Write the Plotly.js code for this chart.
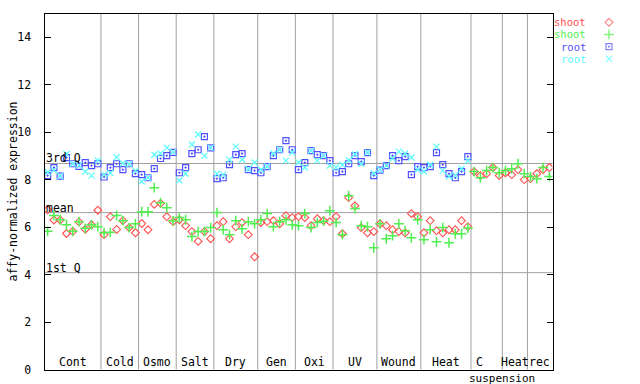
<!DOCTYPE html>
<html>
<head>
<meta charset="utf-8">
<script src="https://cdn.plot.ly/plotly-3.0.1.min.js"></script>
<style>html,body{margin:0;padding:0;background:#fff;}#chart{width:640px;height:384px;}</style>
</head>
<body>
<div id="chart"></div>
<script>
// ---- data ----
const groupNames = ['Cont','Cold','Osmo','Salt','Dry','Gen','Oxi','UV','Wound','Heat','C','Heat','rec'];
const groupSizes = [9,6,6,6,7,6,6,7,7,8,5,4,4];
const subLabel = 'suspension';          // spans the groups "C" and "Heat" (2nd)
const subLabelGroups = [10, 11];

const shootRep1 = [6.73,6.30,6.30,5.73,5.82,6.22,5.91,6.10,6.71,5.68,6.44,5.90,6.27,5.98,5.76,6.15,5.89,6.96,7.00,6.44,6.23,6.31,6.06,5.81,5.40,5.81,5.51,
  6.06,6.23,5.51,6.02,6.19,5.68,4.75,6.19,6.23,6.27,6.14,6.48,6.40,6.44,6.40,6.06,6.35,6.27,6.23,6.44,5.72,7.24,6.90,5.98,5.76,5.81,
  6.14,6.06,5.89,5.81,5.76,6.57,6.44,5.76,6.27,5.85,5.76,5.89,5.89,6.27,6.02,8.34,8.17,8.25,8.51,8.17,8.29,8.21,8.42,8.00,8.04,8.25,8.42,8.51];
const shootRep2 = [5.82,6.49,6.31,6.10,5.82,6.23,5.95,6.10,6.02,5.76,5.78,6.49,6.27,5.98,6.14,6.65,6.65,7.66,7.03,6.82,6.26,6.40,6.31,5.60,5.81,5.81,5.98,
  6.61,5.89,5.68,6.27,5.93,6.23,6.14,6.31,6.57,6.02,6.23,6.31,6.10,6.06,6.57,5.98,6.19,6.25,6.69,6.19,5.68,7.32,6.78,6.06,6.02,5.13,
  6.14,5.51,5.64,6.14,5.85,5.55,6.31,5.47,5.89,5.38,5.98,5.34,5.72,5.72,5.96,8.34,8.08,8.38,8.51,8.29,8.38,8.46,8.67,8.25,8.13,8.04,8.51,8.13];
const rootRep1 = [8.17,8.51,8.15,8.93,8.67,8.56,8.72,8.59,8.67,8.11,8.51,8.67,8.42,8.67,8.25,8.21,8.08,8.46,8.89,9.01,9.15,8.29,8.51,9.10,9.26,9.81,9.34,
  8.04,8.08,8.63,9.05,9.10,8.42,8.38,8.29,8.55,9.01,9.26,9.64,9.26,8.42,8.72,9.22,9.05,9.01,8.80,8.29,8.34,8.67,9.01,8.76,9.14,8.17,
  8.40,8.59,9.01,8.80,8.97,8.21,8.55,8.51,8.55,9.14,8.63,8.25,8.08,8.34,8.97,null,null,null,null,null,null,null,null,null,null,null,null,null];
const rootRep2 = [8.31,8.40,8.15,9.08,8.67,8.60,8.34,8.17,8.81,8.21,8.28,8.94,8.69,8.65,8.38,7.92,8.08,9.05,9.10,9.35,9.17,7.96,8.25,9.48,9.90,9.01,9.35,
  8.25,8.21,8.84,9.39,8.84,8.45,8.72,8.42,8.55,9.10,9.26,8.80,9.14,8.72,8.51,9.22,8.80,9.01,8.59,8.52,8.63,8.82,9.07,8.67,9.14,8.27,
  8.42,8.59,8.89,9.18,9.10,8.93,8.42,8.34,8.63,9.39,8.38,8.13,8.19,8.46,8.80,null,null,null,null,null,null,null,null,null,null,null,null,null];

const refLines = [4.08, 6.61, 8.68];
const refLabels = ['1st Q', 'mean', '3rd Q'];
const legendLabels = ['shoot','shoot','root','root'];
const yTicks = [0,2,4,6,8,10,12,14];

// ---- styles ----
const FONT = 'DejaVu Sans Mono, monospace';
const colors = ['#ff5050','#50f050','#5050ff','#60ffff'];
const symbols = ['diamond-open','cross-thin-open','square-open-dot','x-thin-open'];
const sizes = [6,7,6,6];
const widths = [1.1,1.5,1.2,1.3];
const series = [shootRep1, shootRep2, rootRep1, rootRep2];

const nSamples = groupSizes.reduce((a,b)=>a+b,0);
const xIdx = Array.from({length:nSamples},(_,i)=>i);

// group boundaries / centres
const bounds = []; const centres = [];
let acc = 0;
groupSizes.forEach((n,g)=>{ centres.push(acc + (n-1)/2); acc += n; if (g < groupSizes.length-1) bounds.push(acc-0.5); });

const traces = series.map((s,k)=>({
  type:'scatter', mode:'markers', x:xIdx, y:s, name:legendLabels[k], showlegend:false,
  marker:{symbol:symbols[k], size:sizes[k], color:colors[k], line:{color:colors[k], width:widths[k]}},
  xaxis:'x', yaxis:'y', hoverinfo:'skip'
}));
// legend keys (drawn on a helper axis in the right margin)
traces.push({
  type:'scatter', mode:'markers', x:legendLabels.map(()=>0), y:legendLabels.map((_,k)=>k),
  xaxis:'x2', yaxis:'y2', showlegend:false, hoverinfo:'skip',
  marker:{symbol:symbols, size:sizes, color:colors, line:{color:colors, width:widths}}
});

const W=640,H=384;
const L=44.5,R=552.5,T=13.5,B=369.5;
const shapes = [];
bounds.forEach(b=>shapes.push({type:'line', xref:'x', yref:'paper', x0:b, x1:b, y0:(H-B)/H, y1:(H-T)/H, line:{color:'#a0a0a0', width:1}, layer:'below'}));
refLines.forEach(v=>shapes.push({type:'line', xref:'paper', yref:'y', x0:L/W, x1:R/W, y0:v, y1:v, line:{color:'#a0a0a0', width:1}, layer:'below'}));

const annotations = [];
groupNames.forEach((g,i)=>annotations.push({xref:'x', yref:'y', x:centres[i], y:0, yanchor:'bottom', yshift:0,
  xshift:(g==='C'?-7:0), borderpad:0, text:g, showarrow:false, font:{family:FONT, size:11.5, color:'#000'}}));
annotations.push({xref:'x', yref:'y', x:bounds[subLabelGroups[0]], y:0, yanchor:'top', yshift:-1, borderpad:0,
  text:subLabel, showarrow:false, font:{family:FONT, size:11, color:'#000'}});
refLabels.forEach((t,i)=>annotations.push({xref:'paper', yref:'y', x:(L+0.5)/W, xanchor:'left', y:refLines[i], yanchor:'bottom', yshift:-3, borderpad:0,
  text:t, showarrow:false, font:{family:FONT, size:11.5, color:'#000'}}));
legendLabels.forEach((t,k)=>annotations.push({xref:'paper', yref:'y2', x:587/W, xanchor:'right', y:k, yanchor:'middle', borderpad:0,
  text:t, showarrow:false, font:{family:FONT, size:10.5, color:colors[k]}}));
// y-axis title, placed as a rotated annotation in the left margin
annotations.push({xref:'paper', yref:'paper', x:12/W, y:(H-(T+B)/2)/H, xanchor:'center', yanchor:'middle', textangle:-90,
  text:'affy-normalized expression', showarrow:false, borderpad:0, font:{family:FONT, size:11.5, color:'#000'}});

const layout = {
  width:W, height:H, margin:{l:0,r:0,t:0,b:0},
  paper_bgcolor:'#fff', plot_bgcolor:'#fff', showlegend:false,
  font:{family:FONT, size:11.5, color:'#000'},
  xaxis:{domain:[L/W, R/W], range:[-0.5, nSamples-0.5], showticklabels:false, ticks:'', showgrid:false, zeroline:false,
         showline:true, linecolor:'#000', linewidth:1, mirror:true, fixedrange:true},
  yaxis:{domain:[(H-B)/H, (H-T)/H], range:[0,15], tickvals:yTicks, ticks:'inside', ticklen:6, tickcolor:'#000',
         showgrid:false, zeroline:false, showline:true, linecolor:'#000', linewidth:1, mirror:'ticks',
         ticklabelstandoff:10, tickfont:{family:FONT, size:11.5, color:'#000'}, fixedrange:true},
  xaxis2:{domain:[600/W, 618/W], range:[-1,1], visible:false, anchor:'y2', fixedrange:true},
  yaxis2:{domain:[(H-64.8)/H, (H-16.2)/H], range:[3.5,-0.5], visible:false, anchor:'x2', fixedrange:true},
  shapes:shapes, annotations:annotations
};
Plotly.newPlot('chart', traces, layout, {displayModeBar:false, staticPlot:true});
</script>
</body>
</html>
